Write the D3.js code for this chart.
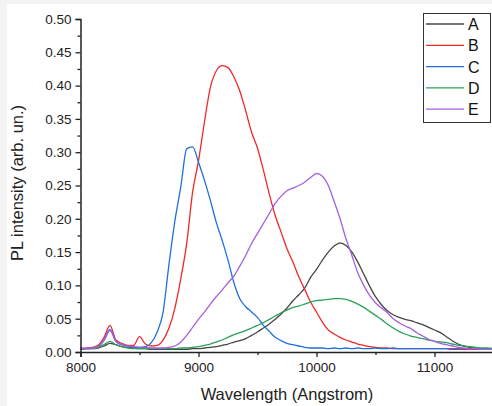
<!DOCTYPE html>
<html><head><meta charset="utf-8">
<script src="https://cdn.jsdelivr.net/npm/d3@7"></script>
<style>body{margin:0;background:#fff}svg{display:block}</style>
</head><body>
<svg id="c" width="492" height="406"></svg>
<script>
const wavelengths = [8000,8050,8100,8150,8200,8250,8300,8350,8400,8450,8500,8550,8600,8650,8700,8750,8800,8850,8900,8950,9000,9050,9100,9150,9200,9250,9300,9350,9400,9450,9500,9550,9600,9650,9700,9750,9800,9850,9900,9950,10000,10050,10100,10150,10200,10250,10300,10350,10400,10450,10500,10550,10600,10650,10700,10750,10800,10850,10900,10950,11000,11050,11100,11150,11200,11250,11300,11350,11400,11450,11500];
const seriesNames = ["A","B","C","D","E"];
const seriesA = [0.004,0.005,0.005,0.006,0.009,0.013,0.011,0.008,0.007,0.006,0.005,0.005,0.004,0.004,0.004,0.004,0.004,0.004,0.004,0.005,0.005,0.006,0.007,0.008,0.010,0.012,0.015,0.017,0.020,0.025,0.030,0.036,0.042,0.049,0.057,0.066,0.077,0.086,0.096,0.112,0.124,0.138,0.150,0.159,0.164,0.160,0.150,0.135,0.117,0.099,0.083,0.071,0.062,0.056,0.052,0.049,0.047,0.044,0.041,0.037,0.033,0.029,0.023,0.017,0.012,0.009,0.007,0.006,0.005,0.005,0.004];
const seriesB = [0.005,0.006,0.007,0.010,0.022,0.040,0.018,0.013,0.010,0.010,0.023,0.012,0.009,0.010,0.018,0.036,0.066,0.110,0.163,0.240,0.287,0.345,0.397,0.422,0.430,0.427,0.413,0.392,0.362,0.330,0.306,0.273,0.237,0.205,0.180,0.155,0.135,0.113,0.094,0.075,0.060,0.045,0.033,0.027,0.022,0.018,0.015,0.012,0.010,0.008,0.007,0.006,0.006,0.005,0.005,0.005,0.005,0.005,0.005,0.005,0.005,0.005,0.005,0.004,0.004,0.004,0.004,0.004,0.004,0.004,0.004];
const seriesC = [0.006,0.005,0.006,0.008,0.018,0.034,0.016,0.011,0.009,0.007,0.007,0.008,0.014,0.030,0.060,0.132,0.197,0.248,0.305,0.308,0.285,0.258,0.228,0.195,0.168,0.138,0.104,0.080,0.068,0.060,0.052,0.040,0.031,0.022,0.017,0.013,0.011,0.009,0.007,0.006,0.006,0.006,0.005,0.006,0.005,0.006,0.005,0.006,0.005,0.005,0.006,0.005,0.005,0.006,0.005,0.005,0.005,0.005,0.005,0.005,0.005,0.005,0.005,0.005,0.005,0.005,0.005,0.005,0.005,0.005,0.005];
const seriesD = [0.004,0.005,0.005,0.007,0.011,0.016,0.011,0.008,0.006,0.005,0.005,0.005,0.005,0.005,0.005,0.005,0.005,0.006,0.006,0.007,0.008,0.010,0.012,0.015,0.018,0.022,0.026,0.029,0.032,0.036,0.040,0.044,0.049,0.054,0.059,0.063,0.067,0.069,0.072,0.075,0.077,0.078,0.079,0.080,0.080,0.079,0.076,0.072,0.067,0.061,0.055,0.049,0.042,0.036,0.031,0.027,0.024,0.022,0.020,0.018,0.016,0.015,0.014,0.012,0.010,0.009,0.008,0.007,0.006,0.006,0.005];
const seriesE = [0.005,0.005,0.006,0.008,0.018,0.032,0.016,0.011,0.009,0.008,0.007,0.007,0.006,0.006,0.006,0.007,0.009,0.015,0.025,0.037,0.049,0.060,0.072,0.083,0.093,0.104,0.114,0.129,0.145,0.163,0.178,0.193,0.208,0.223,0.234,0.242,0.246,0.250,0.255,0.262,0.268,0.264,0.250,0.226,0.200,0.170,0.145,0.119,0.100,0.085,0.074,0.066,0.059,0.050,0.044,0.039,0.035,0.029,0.024,0.019,0.016,0.013,0.011,0.009,0.007,0.006,0.005,0.005,0.004,0.004,0.004];
const seriesColors = ["#454545","#f02828","#1e6fe0","#2aa05a","#a55fe0"];
const xTicks = [8000,9000,10000,11000];
const xMinor = [8500,9500,10500,11500];
const yTicks = [0,0.05,0.10,0.15,0.20,0.25,0.30,0.35,0.40,0.45,0.50];
const yMinor = [0.025,0.075,0.125,0.175,0.225,0.275,0.325,0.375,0.425,0.475];
const xTitle = "Wavelength (Angstrom)";
const yTitle = "PL intensity (arb. un.)";

const allSeries = [seriesA,seriesB,seriesC,seriesD,seriesE];
const svg = d3.select("#c");
const font = "'Liberation Sans', Arial, sans-serif";

svg.append("rect").attr("width",492).attr("height",406).attr("fill","#f3f3f3");
svg.append("rect").attr("x",7).attr("y",4).attr("width",485).attr("height",402).attr("fill","#fff");

const x = d3.scaleLinear().domain([8000,11500]).range([80.5,493.5]);
const y = d3.scaleLinear().domain([0,0.5]).range([352,19]);

const line = d3.line().curve(d3.curveMonotoneX).x((d,i)=>x(wavelengths[i])).y(d=>y(d));
allSeries.forEach((s,k)=>{
  svg.append("path").datum(s).attr("d",line)
    .attr("fill","none").attr("stroke",seriesColors[k]).attr("stroke-width",1.3)
    .attr("stroke-linejoin","round");
});

// axes
const gx = svg.append("g").attr("transform","translate(0,352)");
gx.call(d3.axisBottom(x).tickValues(xTicks).tickSize(5).tickPadding(5).tickFormat(d3.format("d")));
const gxm = svg.append("g").attr("transform","translate(0,352)");
gxm.call(d3.axisBottom(x).tickValues(xMinor).tickSize(3).tickFormat(""));
gxm.select(".domain").remove();

const gy = svg.append("g").attr("transform","translate(80.5,0)");
gy.call(d3.axisLeft(y).tickValues(yTicks).tickSize(5).tickPadding(4).tickFormat(d3.format(".2f")));
const gym = svg.append("g").attr("transform","translate(80.5,0)");
gym.call(d3.axisLeft(y).tickValues(yMinor).tickSize(3).tickFormat(""));
gym.select(".domain").remove();

[gx,gxm,gy,gym].forEach(g=>{
  g.selectAll("path,line").attr("stroke","#222").attr("stroke-width",1.3);
  g.selectAll("text").attr("fill","#222").style("font-family",font).style("font-size","13.5px");
});
gx.select(".domain").attr("stroke-width",1.5);
gy.select(".domain").attr("stroke-width",1.5);

svg.append("text").attr("x",287).attr("y",400).attr("text-anchor","middle")
  .style("font-family",font).style("font-size","16.5px").attr("fill","#222").text(xTitle);
svg.append("text").attr("transform","translate(23,183) rotate(-90)").attr("text-anchor","middle")
  .style("font-family",font).style("font-size","16.5px").attr("fill","#222").text(yTitle);

// legend
const lg = svg.append("g");
lg.append("rect").attr("x",423.5).attr("y",13.5).attr("width",67).attr("height",109)
  .attr("fill","#fff").attr("stroke","#333").attr("stroke-width",1);
seriesNames.forEach((n,i)=>{
  const yy = 24 + i*21.3;
  lg.append("line").attr("x1",426).attr("x2",464).attr("y1",yy).attr("y2",yy)
    .attr("stroke",seriesColors[i]).attr("stroke-width",1.3);
  lg.append("text").attr("x",468).attr("y",yy+6).style("font-family",font)
    .style("font-size","16px").attr("fill","#111").text(n);
});
</script>
</body></html>
